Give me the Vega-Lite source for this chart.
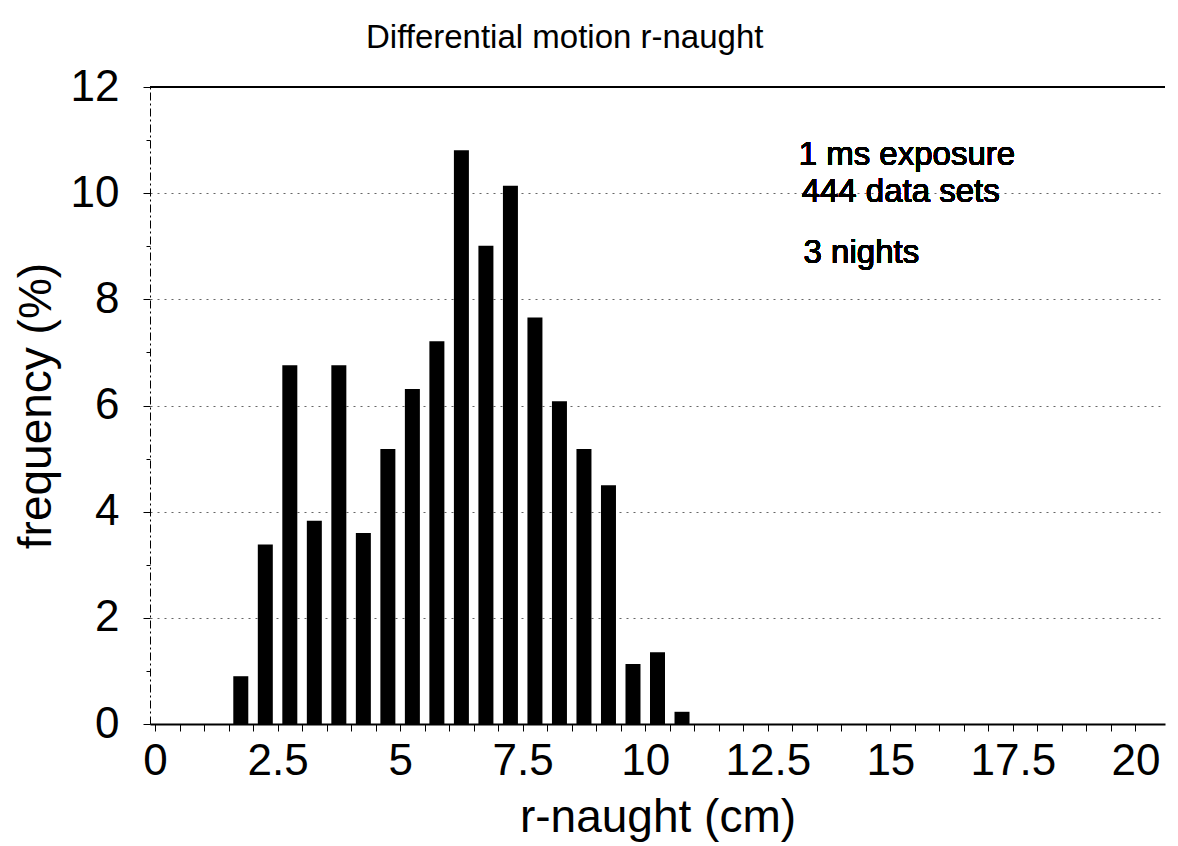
{
  "$schema": "https://vega.github.io/schema/vega-lite/v6.json",
  "autosize": "none",
  "width": 1015,
  "height": 637,
  "padding": {"left": 150, "top": 87, "right": 13, "bottom": 122},
  "background": "white",
  "title": {
    "text": "Differential motion r-naught",
    "anchor": "start",
    "frame": "group",
    "dx": 216,
    "offset": 10,
    "font": "Liberation Sans",
    "fontSize": 33,
    "fontWeight": "normal",
    "color": "black"
  },
  "config": {
    "view": {"stroke": null},
    "font": "Liberation Sans",
    "axis": {
      "labelFont": "Liberation Sans",
      "titleFont": "Liberation Sans",
      "labelColor": "black",
      "titleColor": "black",
      "titleFontWeight": "normal",
      "tickColor": "black",
      "domainColor": "black",
      "labelOverlap": false
    }
  },
  "data": {
    "values": [
      {"r_naught": 1.75, "frequency": 0.90},
      {"r_naught": 2.25, "frequency": 3.38},
      {"r_naught": 2.75, "frequency": 6.76},
      {"r_naught": 3.25, "frequency": 3.83},
      {"r_naught": 3.75, "frequency": 6.76},
      {"r_naught": 4.25, "frequency": 3.60},
      {"r_naught": 4.75, "frequency": 5.18},
      {"r_naught": 5.25, "frequency": 6.31},
      {"r_naught": 5.75, "frequency": 7.21},
      {"r_naught": 6.25, "frequency": 10.81},
      {"r_naught": 6.75, "frequency": 9.01},
      {"r_naught": 7.25, "frequency": 10.14},
      {"r_naught": 7.75, "frequency": 7.66},
      {"r_naught": 8.25, "frequency": 6.08},
      {"r_naught": 8.75, "frequency": 5.18},
      {"r_naught": 9.25, "frequency": 4.50},
      {"r_naught": 9.75, "frequency": 1.13},
      {"r_naught": 10.25, "frequency": 1.35},
      {"r_naught": 10.75, "frequency": 0.23}
    ]
  },
  "layer": [
    {
      "mark": {"type": "bar", "width": 15, "color": "black"},
      "encoding": {
        "x": {
          "field": "r_naught",
          "type": "quantitative",
          "scale": {"domain": [0, 20.5], "nice": false, "zero": true},
          "axis": {
            "title": "r-naught (cm)",
            "titleFontSize": 46,
            "titlePadding": 12,
            "tickCount": 100,
            "values": [0, 0.5, 1, 1.5, 2, 2.5, 3, 3.5, 4, 4.5, 5, 5.5, 6, 6.5, 7, 7.5, 8, 8.5, 9, 9.5, 10, 10.5, 11, 11.5, 12, 12.5, 13, 13.5, 14, 14.5, 15, 15.5, 16, 16.5, 17, 17.5, 18, 18.5, 19, 19.5, 20],
            "format": "~g",
            "labelExpr": "indexof(['0', '2.5', '5', '7.5', '10', '12.5', '15', '17.5', '20'], datum.label) >= 0 ? datum.label : ''",
            "labelFontSize": 44,
            "labelPadding": 8,
            "labelFlush": false,
            "labelOverlap": false,
            "labelSeparation": 0,
            "tickSize": 7,
            "tickWidth": 1,
            "domainWidth": 2,
            "grid": false
          }
        },
        "y": {
          "field": "frequency",
          "type": "quantitative",
          "scale": {"domain": [0, 12], "nice": false},
          "axis": {
            "title": "frequency (%)",
            "titleFontSize": 46,
            "titlePadding": 10,
            "tickCount": 100,
            "values": [0, 1, 2, 3, 4, 5, 6, 7, 8, 9, 10, 11, 12],
            "format": "d",
            "labelExpr": "datum.value % 2 === 0 ? datum.label : ''",
            "labelFontSize": 44,
            "labelPadding": 24,
            "tickSize": {"condition": {"test": "datum.value % 2 === 0", "value": 7}, "value": 4},
            "tickWidth": 1,
            "domainWidth": 1,
            "domainDash": [8, 3, 2, 3],
            "grid": true,
            "gridColor": "#666666",
            "gridDash": [2, 5],
            "gridWidth": 1,
            "gridOpacity": {"condition": {"test": "datum.value % 2 === 0", "value": 1}, "value": 0}
          }
        }
      }
    },
    {
      "mark": {"type": "rule", "color": "black", "strokeWidth": 2},
      "encoding": {"y": {"datum": 12}}
    },
    {
      "mark": {"type": "text", "align": "left", "baseline": "middle", "fontSize": 33, "font": "Liberation Sans", "color": "black"},
      "encoding": {"x": {"datum": 13.13}, "y": {"datum": 10.72}, "text": {"value": "1 ms exposure"}}
    },
    {
      "mark": {"type": "text", "align": "left", "baseline": "middle", "fontSize": 33, "font": "Liberation Sans", "color": "black"},
      "encoding": {"x": {"datum": 13.19}, "y": {"datum": 10.02}, "text": {"value": "444 data sets"}}
    },
    {
      "mark": {"type": "text", "align": "left", "baseline": "middle", "fontSize": 33, "font": "Liberation Sans", "color": "black"},
      "encoding": {"x": {"datum": 13.23}, "y": {"datum": 8.87}, "text": {"value": "3 nights"}}
    }
  ]
}
